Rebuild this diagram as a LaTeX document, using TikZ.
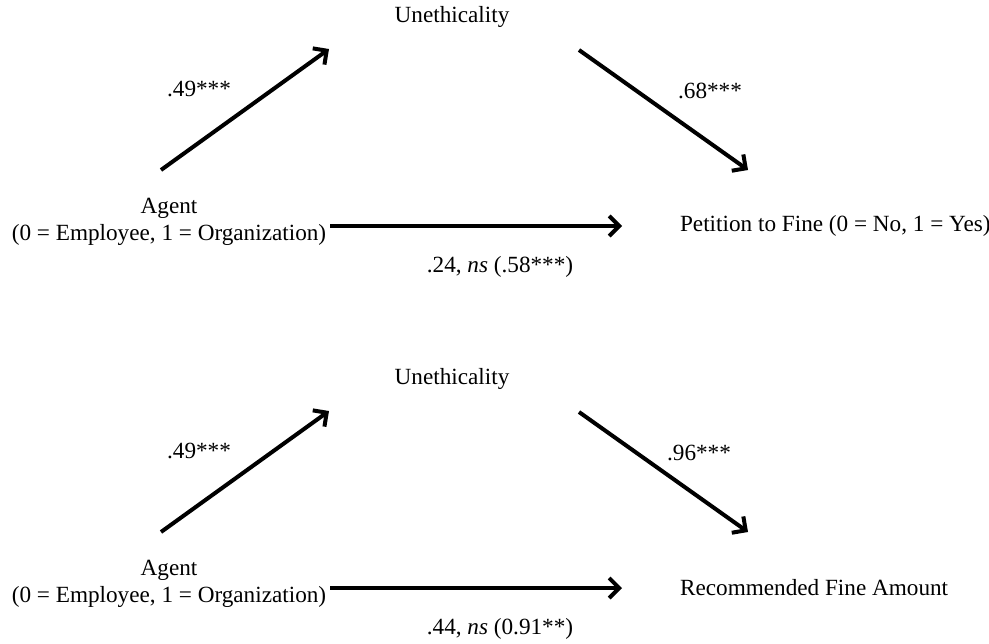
\documentclass[tikz,border=0pt]{standalone}
\usepackage{fontspec}
\setmainfont{Liberation Serif}
\usepackage{tikz}
\usetikzlibrary{arrows.meta}

\begin{document}
\begin{tikzpicture}[x=0.5pt,y=-0.5pt,
    font=\fontsize{11.6}{13.6}\selectfont,
    path/.style={-{Straight Barb[length=5pt,width=10pt]}, line width=2pt}]
\useasboundingbox (0,0) rectangle (989,643);

% top: petition to fine
\begin{scope}
    \node (U1) at (452,17) {Unethicality};
    \node[align=center] (A1) at (169,222) {Agent\\(0 = Employee, 1 = Organization)};
    \node[anchor=west] (P1) at (673,226) {Petition to Fine (0 = No, 1 = Yes)};
    \coordinate (a1) at (161,170);
    \coordinate (b1) at (329,49);
    \coordinate (c1) at (579,50);
    \coordinate (d1) at (748,170);
    \coordinate (e1) at (330,226);
    \coordinate (f1) at (622,226);
    \draw[path] (a1) -- (b1);
    \draw[path] (c1) -- (d1);
    \draw[path] (e1) -- (f1);
    \node (ab1) at (199,89) {.49***};
    \node (cd1) at (710,91) {.68***};
    \node (ef1) at (500,267) {.24, \textit{ns} (.58***)};
\end{scope}

% bottom: recommended fine amount
\begin{scope}
    \node (U2) at (452,379) {Unethicality};
    \node[align=center] (A2) at (169,584) {Agent\\(0 = Employee, 1 = Organization)};
    \node[anchor=west] (P2) at (673,588) {Recommended Fine Amount};
    \coordinate (a2) at (161,532);
    \coordinate (b2) at (329,411);
    \coordinate (c2) at (579,412);
    \coordinate (d2) at (748,532);
    \coordinate (e2) at (330,588);
    \coordinate (f2) at (622,588);
    \draw[path] (a2) -- (b2);
    \draw[path] (c2) -- (d2);
    \draw[path] (e2) -- (f2);
    \node (ab2) at (199,451) {.49***};
    \node (cd2) at (699,453) {.96***};
    \node (ef2) at (500,629) {.44, \textit{ns} (0.91**)};
\end{scope}

\end{tikzpicture}
\end{document}
